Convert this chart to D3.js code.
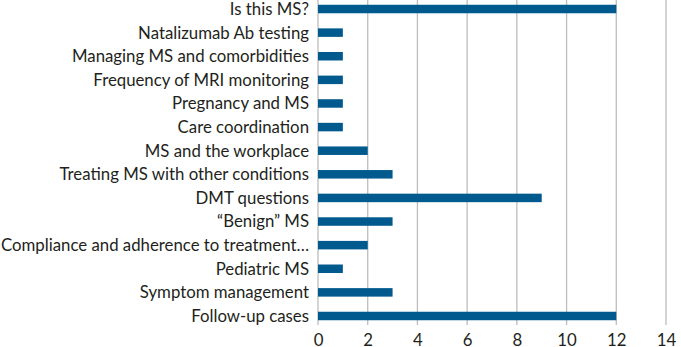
<!DOCTYPE html>
<html lang="en">
<head>
  <meta charset="UTF-8">
  <title>MS consultation topics</title>
  <script src="https://d3js.org/d3.v7.min.js"></script>
  <style>
    html, body { margin: 0; padding: 0; background: #fff; }
    svg { display: block; font-family: Lato, "Open Sans", sans-serif; }
  </style>
</head>
<body>
  <div id="chart"></div>
  <script>
    const topics = [
      "Is this MS?",
      "Natalizumab Ab testing",
      "Managing MS and comorbidities",
      "Frequency of MRI monitoring",
      "Pregnancy and MS",
      "Care coordination",
      "MS and the workplace",
      "Treating MS with other conditions",
      "DMT questions",
      "\u201cBenign\u201d MS",
      "Compliance and adherence to treatment\u2026",
      "Pediatric MS",
      "Symptom management",
      "Follow-up cases"
    ];
    const counts = [12, 1, 1, 1, 1, 1, 2, 3, 9, 3, 2, 1, 3, 12];
    const ticks = [0, 2, 4, 6, 8, 10, 12, 14];

    const width = 681, height = 347;
    const plotLeft = 318, plotRight = 666, plotTop = 0, plotBottom = 327;
    const fontSize = "16.8px";

    const svg = d3.select("#chart").append("svg")
      .attr("width", width)
      .attr("height", height);

    const x = d3.scaleLinear().domain([0, 14]).range([plotLeft, plotRight]);
    const y = d3.scaleBand().domain(topics)
      .range([plotTop - 2.8, plotBottom + 0.8])
      .paddingInner(0.64).paddingOuter(0.32);

    // vertical grid
    svg.append("g")
      .selectAll("line")
      .data(ticks)
      .join("line")
      .attr("x1", d => x(d)).attr("x2", d => x(d))
      .attr("y1", plotTop).attr("y2", plotBottom - 2)
      .attr("stroke", "#bdbdbd")
      .attr("stroke-width", 1.3);

    // bars
    svg.append("g")
      .selectAll("rect")
      .data(topics)
      .join("rect")
      .attr("x", x(0))
      .attr("y", d => y(d))
      .attr("width", (d, i) => x(counts[i]) - x(0))
      .attr("height", y.bandwidth())
      .attr("fill", "#005a8e");

    // category labels
    svg.append("g")
      .selectAll("text")
      .data(topics)
      .join("text")
      .attr("x", plotLeft - 9)
      .attr("y", d => y(d) + y.bandwidth() / 2)
      .attr("dy", "0.35em")
      .attr("text-anchor", "end")
      .attr("fill", "#231f20")
      .style("font-size", fontSize)
      .text(d => d);

    // x axis
    const xAxis = svg.append("g")
      .attr("transform", `translate(0,${plotBottom})`)
      .call(d3.axisBottom(x).tickValues(ticks).tickSize(0).tickPadding(7));
    xAxis.select(".domain").remove();
    xAxis.selectAll("text")
      .attr("fill", "#231f20")
      .style("font-size", fontSize)
      .style("font-family", "Lato, 'Open Sans', sans-serif");
  </script>
</body>
</html>
